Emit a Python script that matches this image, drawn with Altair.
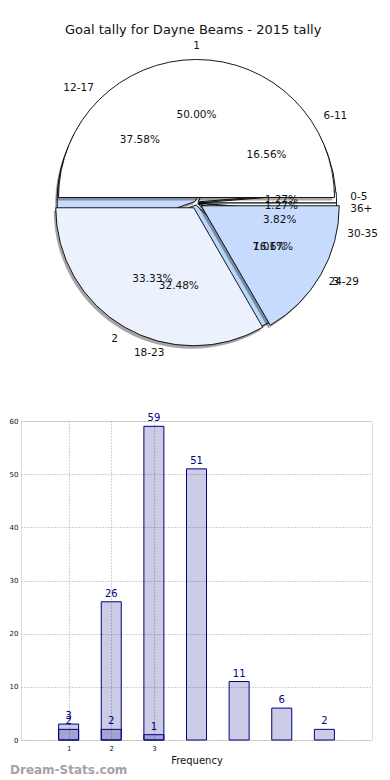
import math
import altair as alt
import pandas as pd

title_text = "Goal tally for Dayne Beams - 2015 tally"

goal_labels = ["1", "2", "3"]
goal_counts = [3, 2, 1]
goal_colors = ["#ffffff", "#ebf2fe", "#c6dbfe"]

minute_labels = ["0-5", "6-11", "12-17", "18-23", "24-29", "30-35", "36+"]
minute_counts = [2, 26, 59, 51, 11, 6, 2]
minute_colors = ["#ffffff", "#e9f1fe", "#c6dbff", "#b9d6fb", "#c6dbff", "#e9f1fe", "#ffffff"]

goal_positions = [1, 2, 3]
minute_positions = [1, 2, 3, 4, 5, 6, 7]
x_tick_values = [1, 2, 3]
y_tick_values = [0, 10, 20, 30, 40, 50, 60]

watermark = "Dream-Stats.com"
x_title = "Frequency"

# layout / style constants
W = 351
PH = 304
BH = 319
R = 138
GOAL_EXPLODE = 0.04
MIN_EXPLODE = 0.015
FONT = "DejaVu Sans"
NAVY = "#000080"

TWO_PI_RANGE = [2.5 * math.pi, 0.5 * math.pi]


def xenc(field):
    return alt.X(f"{field}:Q", scale=alt.Scale(domain=[-W / 2, W / 2], nice=False, zero=False), axis=None)


def yenc(field):
    return alt.Y(f"{field}:Q", scale=alt.Scale(domain=[-PH / 2, PH / 2], nice=False, zero=False), axis=None)


def pie_base(labels, counts, explode):
    df = pd.DataFrame({"label": labels, "n": counts, "idx": list(range(len(labels)))})
    return (
        alt.Chart(df)
        .transform_joinaggregate(total="sum(n)")
        .transform_window(cum="sum(n)", sort=[alt.SortField("idx", order="ascending")], frame=[None, 0])
        .transform_calculate(frac="(datum.cum - datum.n/2)/datum.total")
        .transform_calculate(mid="2*PI*datum.frac")
        .transform_calculate(
            ox=f"{explode * R}*cos(datum.mid)",
            oy=f"{explode * R}*sin(datum.mid)",
            c="cos(datum.mid)",
            pct="format(datum.n/datum.total, '.2%')",
        )
        .transform_calculate(sx="datum.ox - 2", sy="datum.oy - 3")
    )


def pie_arcs(base, labels, colors, shadow=False):
    theta = alt.Theta("n:Q", stack="normalize", scale=alt.Scale(domain=[0, 1], range=TWO_PI_RANGE))
    if shadow:
        return base.mark_arc(radius=R, fill="#000000", fillOpacity=0.35).encode(
            theta=theta, order=alt.Order("idx:Q"), x=xenc("sx"), y=yenc("sy")
        )
    return base.mark_arc(radius=R, stroke="#000000", strokeWidth=0.9).encode(
        theta=theta,
        order=alt.Order("idx:Q"),
        color=alt.Color("label:N", scale=alt.Scale(domain=labels, range=colors), legend=None),
        x=xenc("ox"),
        y=yenc("oy"),
    )


def pie_texts(base):
    theta = alt.Theta("frac:Q", scale=alt.Scale(domain=[0, 1], range=TWO_PI_RANGE))
    layers = [
        base.mark_text(radius=0.6 * R, fontSize=10.5, font=FONT, color="#111111", baseline="middle").encode(
            theta=theta, x=xenc("ox"), y=yenc("oy"), text="pct:N"
        )
    ]
    for cond, al in [("datum.c > 0.01", "left"), ("datum.c < -0.01", "right"), ("abs(datum.c) <= 0.01", "center")]:
        layers.append(
            base.transform_filter(cond)
            .mark_text(radius=1.1 * R, fontSize=10.5, font=FONT, color="#111111", align=al, baseline="middle")
            .encode(theta=theta, x=xenc("ox"), y=yenc("oy"), text="label:N")
        )
    return layers


min_base = pie_base(minute_labels, minute_counts, MIN_EXPLODE)
goal_base = pie_base(goal_labels, goal_counts, GOAL_EXPLODE)

pie = (
    alt.layer(
        pie_arcs(min_base, minute_labels, minute_colors, shadow=True),
        pie_arcs(min_base, minute_labels, minute_colors),
        pie_arcs(goal_base, goal_labels, goal_colors, shadow=True),
        pie_arcs(goal_base, goal_labels, goal_colors),
        *pie_texts(min_base),
        *pie_texts(goal_base),
    )
    .resolve_scale(color="independent")
    .properties(width=W, height=PH, view=alt.ViewBackground(strokeOpacity=0))
)

# ---------------- bar chart ----------------
min_df = pd.DataFrame({"pos": minute_positions, "n": minute_counts})
goal_df = pd.DataFrame({"pos": goal_positions, "n": goal_counts})
wm_df = pd.DataFrame({"t": [watermark]})

xb = alt.X(
    "pos:Q",
    scale=alt.Scale(domain=[0, 8], nice=False, zero=False),
    axis=alt.Axis(
        values=x_tick_values,
        title=x_title,
        labelFontSize=7,
        labelPadding=4,
        ticks=False,
        domain=False,
        grid=True,
        gridDash=[1, 2],
        gridColor="#a8a8a8",
        gridWidth=1.2,
        titleFontSize=10,
        titleFontWeight="normal",
        titlePadding=4,
        titleColor="#111111",
        labelColor="#111111",
    ),
)
yb = alt.Y(
    "n:Q",
    scale=alt.Scale(domain=[0, 60], nice=False),
    axis=alt.Axis(
        values=y_tick_values,
        title=None,
        labelFontSize=7,
        labelPadding=3,
        ticks=False,
        domain=False,
        grid=True,
        gridDash=[1, 2],
        gridColor="#a8a8a8",
        gridWidth=1.2,
        labelColor="#111111",
    ),
)


def bar_layer(df):
    return alt.Chart(df).mark_bar(
        size=20, orient="vertical", fill=NAVY, fillOpacity=0.2, stroke=NAVY, strokeWidth=1
    ).encode(x=xb, y=yb)


def bar_text(df):
    return alt.Chart(df).mark_text(dy=-8, fontSize=10, font=FONT, color=NAVY).encode(x=xb, y=yb, text="n:Q")


wm = alt.Chart(wm_df).mark_text(
    align="left", baseline="middle", fontSize=12, fontWeight="bold", font=FONT, color="#a3a3a3"
).encode(x=alt.value(-11), y=alt.value(BH + 30), text="t:N")

bar = alt.layer(
    bar_layer(min_df), bar_layer(goal_df), bar_text(min_df), bar_text(goal_df), wm
).properties(width=W, height=BH)

chart = (
    alt.vconcat(pie, bar, spacing=53)
    .properties(
        title=alt.TitleParams(
            title_text, fontSize=13, font=FONT, fontWeight="normal", anchor="middle", offset=4, color="#111111"
        ),
        padding={"left": 0, "top": 15, "right": 0, "bottom": 0},
    )
    .configure_view(stroke="#000000", strokeWidth=1)
    .configure(font=FONT)
)

chart.save("out.html", embed_options={"renderer": "svg", "actions": False})
